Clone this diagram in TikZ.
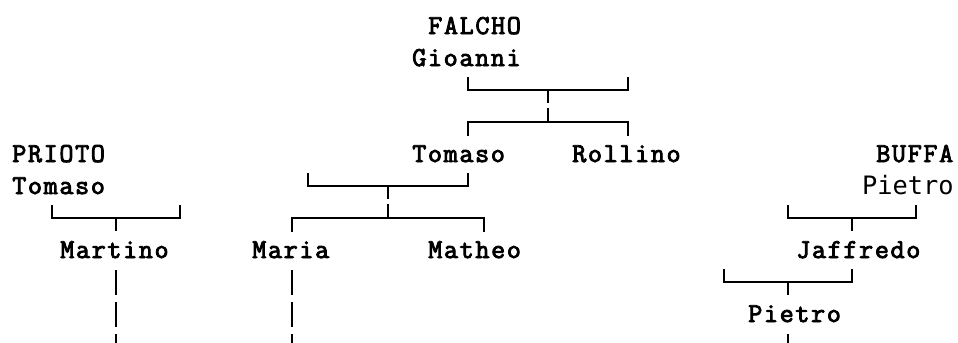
\documentclass[tikz,border=0pt]{standalone}
\usepackage{fontspec}
\newfontfamily\treefont{Latin Modern Mono}[FakeBold=3.2,LetterSpace=6]
\newfontfamily\sansmono{DejaVu Sans Mono}
\usetikzlibrary{calc}
\usetikzlibrary{positioning}

\begin{document}
\begin{tikzpicture}[x=0.75pt,y=-0.75pt,
		person/.style={anchor=base west, inner sep=0pt, font=\fontsize{20.5}{24}\selectfont\treefont},
		link/.style={line width=1.5pt}]
				\useasboundingbox (0,0) rectangle (958,343);
				
				\node[person] (falcho) at (428,34) {FALCHO};
				\node[person] (gioanni) at (412,66) {Gioanni};
				\node[person] (tomasoF) at (412,162) {Tomaso};
				\node[person] (rollino) at (572,162) {Rollino};
				\node[person] (prioto) at (12,162) {PRIOTO};
				\node[person] (tomasoP) at (12,194) {Tomaso};
				\node[person] (buffa) at (876,162) {BUFFA};
				\node[person, anchor=base east, font=\fontsize{19}{24}\selectfont\sansmono] (pietroB) at (954,194) {Pietro};
				\node[person] (martino) at (60,258) {Martino};
				\node[person] (maria) at (252,258) {Maria};
				\node[person] (matheo) at (428,258) {Matheo};
				\node[person] (jaffredo) at (796,258) {Jaffredo};
				\node[person] (pietro) at (748,322) {Pietro};
				
				\coordinate (fa1) at (468,90);  \coordinate (fa2) at (548,90);  \coordinate (fa3) at (628,90);
				\coordinate (fb1) at (468,122); \coordinate (fb2) at (548,122); \coordinate (fb3) at (628,122);
				\coordinate (ta1) at (308,186); \coordinate (ta2) at (388,186); \coordinate (ta3) at (468,186);
				\coordinate (tb1) at (292,218); \coordinate (tb2) at (388,218); \coordinate (tb3) at (484,218);
				\coordinate (pa1) at (52,218);  \coordinate (pa2) at (116,218); \coordinate (pa3) at (180,218);
				\coordinate (ba1) at (788,218); \coordinate (ba2) at (852,218); \coordinate (ba3) at (916,218);
				\coordinate (ja1) at (724,282); \coordinate (ja2) at (788,282); \coordinate (ja3) at (852,282);
				
				\draw[link] (fa1) ++(0,-13) -- (fa1) -- (fa3) -- ++(0,-13);
				\draw[link] (fa2) -- ++(0,13);
				\draw[link] (fb1) ++(0,14) -- (fb1) -- (fb3) -- ++(0,14);
				\draw[link] (fb2) -- ++(0,-14);
				
				\draw[link] (ta1) ++(0,-13) -- (ta1) -- (ta3) -- ++(0,-13);
				\draw[link] (ta2) -- ++(0,13);
				\draw[link] (tb1) ++(0,14) -- (tb1) -- (tb3) -- ++(0,14);
				\draw[link] (tb2) -- ++(0,-14);
				
				\draw[link] (pa1) ++(0,-13) -- (pa1) -- (pa3) -- ++(0,-13);
				\draw[link] (pa2) -- ++(0,13);
				
				\draw[link] (ba1) ++(0,-13) -- (ba1) -- (ba3) -- ++(0,-13);
				\draw[link] (ba2) -- ++(0,13);
				
				\draw[link] (ja1) ++(0,-13) -- (ja1) -- (ja3) -- ++(0,-13);
				\draw[link] (ja2) -- ++(0,13);
				
				\foreach \y in {270,302,334}{
					\draw[link] (martino.base -| pa2) ++(0,\y-258) -- ++(0,25);
					\draw[link] (maria.base -| tb1) ++(0,\y-258) -- ++(0,25);
				}
				\draw[link] (pietro.base -| ja2) ++(0,12) -- ++(0,25);
			\end{tikzpicture}
\end{document}
